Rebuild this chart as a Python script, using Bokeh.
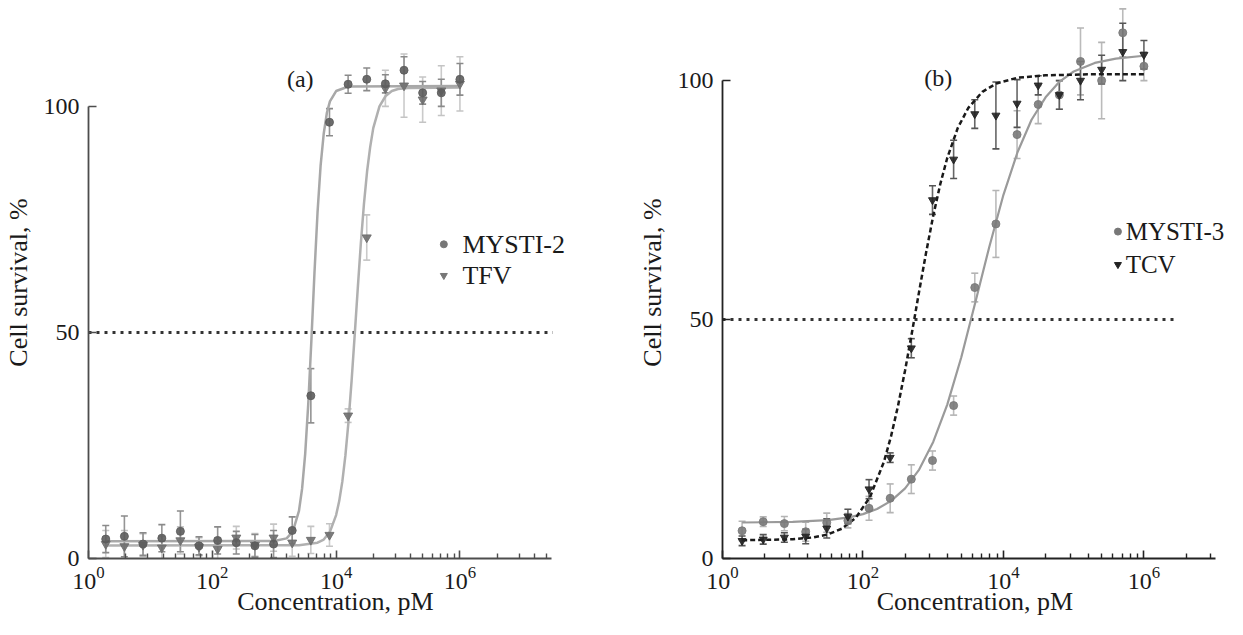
from bokeh.plotting import figure
from bokeh.layouts import row
from bokeh.models import (ColumnDataSource, Range1d, FixedTicker, LogTickFormatter,
                          Whisker, TeeHead, Label)
from bokeh.embed import file_html
from bokeh.resources import INLINE

FONT = "Liberation Serif"

# ---------------- data ----------------
conc = [1.9, 3.8, 7.6, 15.3, 30.5, 61, 122, 244, 488, 977, 1953, 3906, 7813,
        15625, 31250, 62500, 125000, 250000, 500000, 1000000]

# panel (a)
mysti2 = [4.3, 4.9, 3.2, 4.5, 6.0, 2.8, 4.0, 3.5, 2.8, 3.2, 6.2, 36.0, 96.5,
          104.9, 106.0, 105.0, 108.0, 103.0, 103.0, 106.0]
mysti2_err = [3.0, 4.5, 2.5, 3.0, 4.5, 2.0, 3.0, 2.5, 2.5, 3.0, 3.0, 6.0, 3.0,
              2.0, 2.5, 2.0, 3.0, 2.5, 3.0, 3.5]
tfv = [3.2, 2.7, 3.0, 2.4, 4.0, 2.6, 2.1, 4.6, 3.0, 4.6, 3.5, 4.1, 5.2, 31.6,
       71.0, 104.0, 104.6, 101.5, 103.5, 105.0]
tfv_err = [3.0, 3.5, 2.5, 2.5, 3.0, 2.0, 2.5, 2.5, 2.5, 3.0, 3.0, 3.0, 2.5, 1.5,
           5.0, 4.0, 7.0, 5.0, 5.5, 6.0]

# fitted curves (log10 concentration, survival %)
mysti2_fit_logx = [0.28, 3.0, 3.2, 3.3, 3.4, 3.45, 3.5, 3.55, 3.6, 3.65, 3.7, 3.75,
                   3.8, 3.85, 3.9, 4.0, 4.2, 6.0]
mysti2_fit_y = [3.8, 3.86, 4.45, 5.94, 10.55, 15.4, 23.1, 34.2, 48.1, 63.1, 76.6,
                87.0, 94.0, 98.5, 101.1, 103.4, 104.4, 104.5]
tfv_fit_logx = [0.28, 3.4, 3.7, 3.8, 3.9, 4.0, 4.05, 4.1, 4.15, 4.2, 4.25, 4.3,
                4.35, 4.4, 4.45, 4.5, 4.55, 4.6, 4.7, 4.8, 4.9, 5.0, 5.2, 6.0]
tfv_fit_y = [2.9, 2.95, 3.5, 4.2, 5.9, 9.6, 12.7, 17.0, 22.8, 30.3, 39.3, 49.4,
             59.8, 69.8, 78.5, 85.6, 91.0, 95.2, 100.0, 102.3, 103.4, 103.85,
             104.1, 104.2]

# panel (b)
mysti3 = [5.8, 7.7, 7.3, 5.6, 7.5, 7.9, 10.5, 12.6, 16.6, 20.5, 32.0, 56.7, 70.0,
          88.7, 95.0, 97.0, 104.0, 100.0, 110.0, 103.0]
mysti3_err = [2.0, 1.0, 1.5, 2.0, 2.0, 1.5, 2.5, 3.0, 3.0, 2.0, 2.0, 3.0, 7.0,
              5.0, 4.0, 3.0, 7.0, 8.0, 5.0, 3.0]
tcv = [3.7, 4.0, 4.4, 4.6, 6.3, 8.8, 14.5, 21.1, 44.0, 75.0, 83.5, 93.0, 92.7,
       95.2, 99.0, 97.0, 100.0, 102.3, 106.0, 105.4]
tcv_err = [1.0, 1.0, 1.0, 1.5, 2.0, 1.5, 2.0, 1.0, 2.0, 3.0, 4.0, 3.0, 7.0, 5.0,
           2.0, 3.0, 4.0, 3.0, 6.0, 3.0]

mysti3_fit_logx = [0.28, 1.0, 1.5, 1.8, 2.0, 2.2, 2.4, 2.6, 2.8, 3.0, 3.2, 3.4,
                   3.6, 3.8, 4.0, 4.2, 4.4, 4.6, 4.8, 5.0, 5.3, 5.6, 6.0]
mysti3_fit_y = [7.53, 7.66, 8.04, 8.6, 9.28, 10.36, 12.06, 14.67, 18.6, 24.4,
                32.2, 42.1, 53.6, 65.3, 76.1, 85.0, 91.8, 96.5, 99.8, 101.9,
                103.7, 104.6, 105.2]
tcv_fit_logx = [0.28, 1.0, 1.3, 1.5, 1.7, 1.9, 2.1, 2.3, 2.4, 2.5, 2.6, 2.7, 2.8,
                2.9, 3.0, 3.1, 3.2, 3.35, 3.5, 3.7, 3.9, 4.2, 4.6, 5.2, 6.0]
tcv_fit_y = [3.82, 4.02, 4.42, 5.04, 6.25, 8.56, 12.85, 20.3, 25.6, 32.0, 39.4,
             47.5, 55.9, 64.1, 71.7, 78.3, 83.8, 90.1, 94.3, 97.65, 99.4, 100.6,
             101.1, 101.3, 101.3]

y_ticks = [0, 50, 100]
x_major = [1, 1e2, 1e4, 1e6]
minor_a = [4, 9, 16, 25, 36, 49, 64, 81,
           400, 900, 1600, 2500, 3600, 4900, 6400, 8100,
           4e4, 9e4, 1.6e5, 2.5e5, 3.6e5, 4.9e5, 6.4e5, 8.1e5,
           4e6, 9e6, 1.6e7, 2.5e7]
minor_b = minor_a[:26]
half_line = 50
legend_a = ["MYSTI-2", "TFV"]
legend_b = ["MYSTI-3", "TCV"]
x_title = "Concentration, pM"
y_title = "Cell survival, %"


def lin(logs):
    return [10 ** v for v in logs]


def make_fig(width, left, right, x_end_log, y_end, axis_end_log, minor, axis_color):
    p = figure(width=width, height=619, x_axis_type="log",
               x_range=Range1d(1, 10 ** x_end_log), y_range=Range1d(0, y_end),
               output_backend="svg", toolbar_location=None,
               min_border_left=left, min_border_right=right,
               min_border_top=6, min_border_bottom=61)
    p.outline_line_color = None
    p.grid.visible = False
    p.background_fill_color = "white"
    p.border_fill_color = "white"

    xa = p.xaxis[0]
    xa.ticker = FixedTicker(ticks=x_major, minor_ticks=minor)
    xa.formatter = LogTickFormatter()
    xa.bounds = (1, 10 ** axis_end_log)
    ya = p.yaxis[0]
    ya.ticker = FixedTicker(ticks=y_ticks, minor_ticks=[])
    ya.bounds = (0, 100)
    for ax in (xa, ya):
        ax.axis_line_color = axis_color
        ax.axis_line_width = 1.8
        ax.major_tick_line_color = axis_color
        ax.major_tick_line_width = 1.6
        ax.minor_tick_line_color = axis_color
        ax.minor_tick_line_width = 1.4
        ax.major_tick_in = 8
        ax.major_tick_out = 0
        ax.minor_tick_in = 5
        ax.minor_tick_out = 0
        ax.major_label_text_font = FONT
        ax.major_label_text_font_size = "24px"
        ax.major_label_text_color = "#1a1a1a"
        ax.axis_label_text_font = FONT
        ax.axis_label_text_font_size = "26px"
        ax.axis_label_text_font_style = "normal"
        ax.axis_label_text_color = "#1a1a1a"
    xa.axis_label = x_title
    xa.major_label_standoff = 8
    xa.axis_label_standoff = -5
    ya.axis_label = y_title
    ya.major_label_standoff = 9
    ya.axis_label_standoff = 8
    return p


def add_series(p, x, y, err, marker, size, color, bar_color, alpha=0.9):
    src = ColumnDataSource(dict(x=x, y=y,
                                lo=[a - b for a, b in zip(y, err)],
                                hi=[a + b for a, b in zip(y, err)]))
    w = Whisker(source=src, base="x", lower="lo", upper="hi",
                line_color=bar_color, line_width=1.6, line_alpha=0.9,
                lower_head=TeeHead(size=7, line_color=bar_color, line_width=1.6),
                upper_head=TeeHead(size=7, line_color=bar_color, line_width=1.6))
    p.add_layout(w)
    p.scatter("x", "y", source=src, marker=marker, size=size, fill_color=color,
              line_color=color, fill_alpha=alpha, line_alpha=alpha)


def add_legend(p, x_mark, x_text, ys, labels, markers, colors, fs):
    p.scatter(x=[x_mark] * 2, y=ys, marker=markers, size=7, color=colors)
    for yy, lab in zip(ys, labels):
        p.add_layout(Label(x=x_text, y=yy, text=lab, text_font=FONT,
                           text_font_size=fs, text_baseline="middle",
                           text_color="#1a1a1a"))


# ---------------- panel (a) ----------------
pa = make_fig(582, 83, 0, 7.98, 122.1, 7.48, minor_a, "#4d4d4d")
pa.line([1, 10 ** 7.5], [half_line, half_line], line_color="#333333",
        line_width=3, line_dash="3 5")
pa.line(lin(tfv_fit_logx), tfv_fit_y, line_color="#b0b0b0", line_width=2.5)
pa.line(lin(mysti2_fit_logx), mysti2_fit_y, line_color="#a8a8a8", line_width=2.5)
add_series(pa, conc, tfv, tfv_err, "inverted_triangle", 9, "#6e6e6e", "#c4c4c4")
add_series(pa, conc, mysti2, mysti2_err, "circle", 8, "#5c5c5c", "#8a8a8a")
pa.add_layout(Label(x=10 ** 3.42, y=106, text="(a)", text_font=FONT,
                    text_font_size="24px", text_align="center",
                    text_baseline="middle", text_color="#1a1a1a"))
add_legend(pa, 10 ** 5.74, 10 ** 6.04, [69.5, 62.6], legend_a,
           ["circle", "inverted_triangle"], ["#777777", "#777777"], "26px")

# ---------------- panel (b) ----------------
pb = make_fig(645, 140, 0, 7.19, 115.5, 7.02, minor_b, "#222222")
pb.line([1, 10 ** 6.43], [half_line, half_line], line_color="#333333",
        line_width=3, line_dash="3 5")
pb.line(lin(mysti3_fit_logx), mysti3_fit_y, line_color="#9a9a9a", line_width=2.2)
pb.line(lin(tcv_fit_logx), tcv_fit_y, line_color="#1a1a1a", line_width=2.5,
        line_dash="5 3")
add_series(pb, conc, mysti3, mysti3_err, "circle", 8, "#7a7a7a", "#b4b4b4")
add_series(pb, conc, tcv, tcv_err, "inverted_triangle", 8, "#222222", "#555555")
pb.add_layout(Label(x=10 ** 3.07, y=100.6, text="(b)", text_font=FONT,
                    text_font_size="24px", text_align="center",
                    text_baseline="middle", text_color="#1a1a1a"))
add_legend(pb, 10 ** 5.63, 10 ** 5.74, [68.4, 61.5], legend_b,
           ["circle", "inverted_triangle"], ["#777777", "#222222"], "25px")

layout = row(pa, pb)
open("out.html", "w").write(file_html(layout, INLINE))
